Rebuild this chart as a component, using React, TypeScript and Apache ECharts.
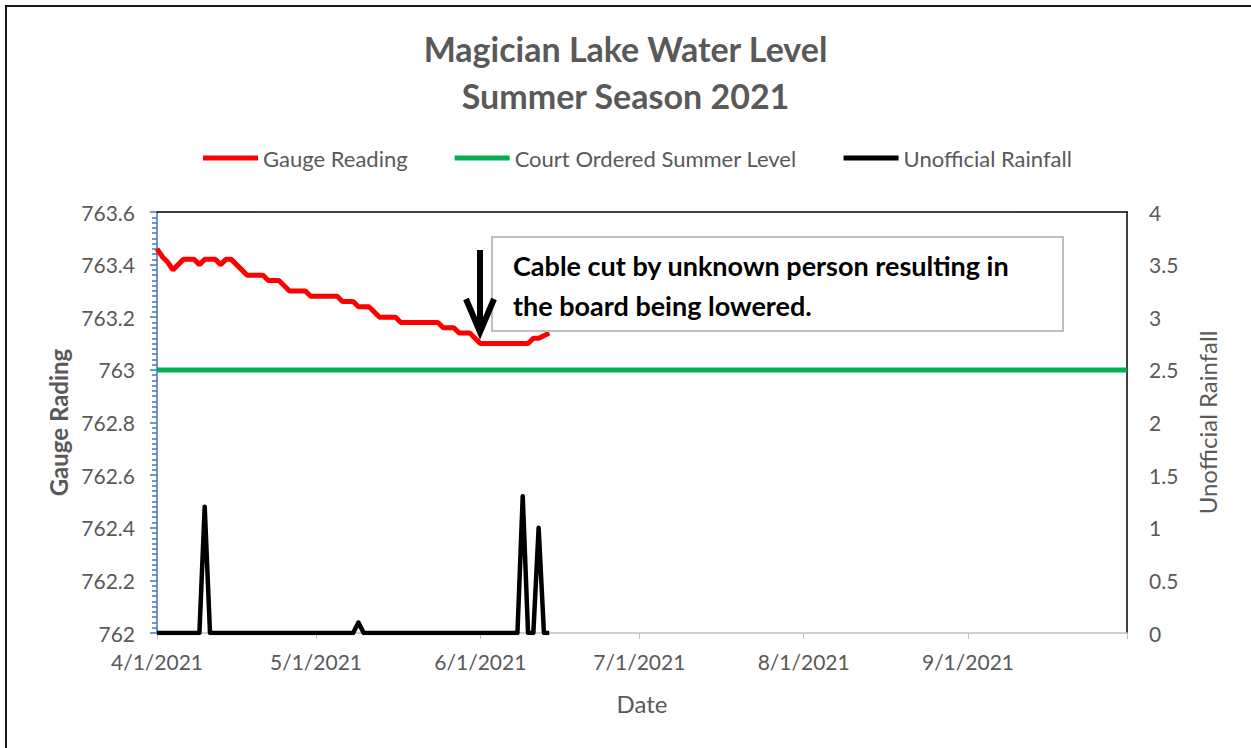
import React, { useEffect, useRef } from "react";
import * as echarts from "echarts";

// Date range of the horizontal axis (4/1/2021 .. 10/1/2021)
const startYear = 2021;
const startMonthIndex = 3; // April
const dayCount = 184;

// Gauge readings, one per day starting 4/1/2021
const gaugeReading = [
  763.46, 763.43, 763.41, 763.38, 763.40, 763.42, 763.42, 763.42, 763.40, 763.42,
  763.42, 763.42, 763.40, 763.42, 763.42, 763.40, 763.38, 763.36, 763.36, 763.36,
  763.36, 763.34, 763.34, 763.34, 763.32, 763.30, 763.30, 763.30, 763.30, 763.28,
  763.28, 763.28, 763.28, 763.28, 763.28, 763.26, 763.26, 763.26, 763.24, 763.24,
  763.24, 763.22, 763.20, 763.20, 763.20, 763.20, 763.18, 763.18, 763.18, 763.18,
  763.18, 763.18, 763.18, 763.18, 763.16, 763.16, 763.16, 763.14, 763.14, 763.14,
  763.12, 763.10, 763.10, 763.10, 763.10, 763.10, 763.10, 763.10, 763.10, 763.10,
  763.10, 763.12, 763.12, 763.13, 763.14,
];

// Unofficial rainfall, one per day starting 4/1/2021
const rainfall = [
  0, 0, 0, 0, 0, 0, 0, 0, 0, 1.2,
  0, 0, 0, 0, 0, 0, 0, 0, 0, 0,
  0, 0, 0, 0, 0, 0, 0, 0, 0, 0,
  0, 0, 0, 0, 0, 0, 0, 0, 0.1, 0,
  0, 0, 0, 0, 0, 0, 0, 0, 0, 0,
  0, 0, 0, 0, 0, 0, 0, 0, 0, 0,
  0, 0, 0, 0, 0, 0, 0, 0, 0, 1.3,
  0, 0, 1.0, 0, 0,
];

// Court ordered summer level (constant)
const courtOrderedLevel = 763;

const seriesNames = ["Gauge Reading", "Court Ordered Summer Level", "Unofficial Rainfall"];
const titleText = "Magician Lake Water Level\nSummer Season 2021";
const noteText = "Cable cut by unknown person resulting in\nthe board being lowered.";

const FONT = "Lato, 'Open Sans', sans-serif";
const GRAY = "#595959";

function buildDates(): string[] {
  const out: string[] = [];
  for (let i = 0; i < dayCount; i++) {
    const d = new Date(startYear, startMonthIndex, 1 + i);
    out.push(`${d.getMonth() + 1}/${d.getDate()}/${d.getFullYear()}`);
  }
  return out;
}

export default function App() {
  const ref = useRef<HTMLDivElement>(null);

  useEffect(() => {
    if (!ref.current) return;
    const chart = echarts.init(ref.current, null, { renderer: "svg" });
    const dates = buildDates();
    const courtLine = dates.map(() => courtOrderedLevel);
    const isMonthStart = (_i: number, v: string) => v.split("/")[1] === "1";

    chart.setOption({
      animation: false,
      textStyle: { fontFamily: FONT },
      title: {
        text: titleText,
        left: "center",
        top: 20,
        textStyle: {
          fontFamily: FONT,
          fontSize: 34,
          fontWeight: "bold",
          color: GRAY,
          lineHeight: 47,
        },
      },
      legend: {
        top: 142,
        left: 198,
        icon: "rect",
        itemWidth: 55,
        itemHeight: 5,
        itemGap: 47,
        textStyle: { fontFamily: FONT, fontSize: 22, color: GRAY },
        data: seriesNames,
      },
      grid: { left: 157, right: 124, top: 212, bottom: 115, containLabel: false },
      xAxis: [
        {
          type: "category",
          data: dates,
          boundaryGap: false,
          name: "Date",
          nameLocation: "middle",
          nameGap: 58,
          nameTextStyle: { fontFamily: FONT, fontSize: 24, color: GRAY },
          axisLine: { lineStyle: { color: "#BFBFBF", width: 1.5 } },
          axisTick: {
            show: true,
            interval: isMonthStart,
            length: 6,
            lineStyle: { color: "#BFBFBF" },
          },
          axisLabel: {
            interval: (i: number, v: string) => isMonthStart(i, v) && i < dayCount - 1,
            margin: 18,
            fontFamily: FONT,
            fontSize: 21,
            color: GRAY,
          },
          splitLine: { show: false },
        },
        {
          type: "category",
          data: dates,
          boundaryGap: false,
          position: "top",
          axisLine: { lineStyle: { color: "#000000", width: 1.5 } },
          axisTick: { show: false },
          axisLabel: { show: false },
          splitLine: { show: false },
        },
      ],
      yAxis: [
        {
          type: "value",
          min: 762,
          max: 763.6,
          interval: 0.2,
          name: "Gauge Rading",
          nameLocation: "middle",
          nameGap: 87,
          nameTextStyle: { fontFamily: FONT, fontSize: 24, fontWeight: "bold", color: GRAY },
          axisLine: { show: true, lineStyle: { color: "#4472C4", width: 1.5 } },
          axisTick: { show: true, length: 7, lineStyle: { color: "#4472C4", width: 1.5 } },
          minorTick: { show: true, splitNumber: 10, length: 5, lineStyle: { color: "#4472C4", width: 1.5 } },
          axisLabel: {
            margin: 22,
            fontFamily: FONT,
            fontSize: 21,
            color: GRAY,
            formatter: (v: number) => String(Math.round(v * 10) / 10),
          },
          splitLine: { show: false },
        },
        {
          type: "value",
          min: 0,
          max: 4,
          interval: 0.5,
          name: "Unofficial Rainfall",
          nameLocation: "middle",
          nameGap: 68,
          nameTextStyle: { fontFamily: FONT, fontSize: 24, color: GRAY },
          axisLine: { show: true, lineStyle: { color: "#000000", width: 1.5 } },
          axisTick: { show: false },
          axisLabel: { margin: 22, fontFamily: FONT, fontSize: 21, color: GRAY },
          splitLine: { show: false },
        },
      ],
      series: [
        {
          name: seriesNames[0],
          type: "line",
          data: gaugeReading,
          yAxisIndex: 0,
          showSymbol: false,
          itemStyle: { color: "#FF0000" },
          lineStyle: { color: "#FF0000", width: 5 },
          z: 3,
        },
        {
          name: seriesNames[1],
          type: "line",
          data: courtLine,
          yAxisIndex: 0,
          showSymbol: false,
          itemStyle: { color: "#00B050" },
          lineStyle: { color: "#00B050", width: 5 },
          z: 3,
        },
        {
          name: seriesNames[2],
          type: "line",
          data: rainfall,
          yAxisIndex: 1,
          showSymbol: false,
          itemStyle: { color: "#000000" },
          lineStyle: { color: "#000000", width: 4.5, join: "round" },
          z: 4,
        },
      ],
      graphic: [
        {
          type: "rect",
          shape: { x: 6, y: 6, width: 1400, height: 900 },
          style: { fill: "none", stroke: "#1a1a1a", lineWidth: 2 },
          silent: true,
          z: 0,
        },
        {
          type: "rect",
          shape: { x: 492, y: 237, width: 571, height: 94 },
          style: { fill: "#FFFFFF", stroke: "#BFBFBF", lineWidth: 2 },
          z: 100,
        },
        {
          type: "text",
          x: 513,
          y: 245,
          style: {
            text: noteText,
            fill: "#000000",
            font: `bold 27px ${FONT}`,
            lineHeight: 40,
            verticalAlign: "top",
          },
          z: 101,
        },
        {
          type: "polyline",
          shape: { points: [[480, 250], [480, 332]] },
          style: { stroke: "#000000", lineWidth: 6, fill: "none" },
          z: 101,
        },
        {
          type: "polyline",
          shape: { points: [[466, 299], [480, 332], [494, 299]] },
          style: { stroke: "#000000", lineWidth: 6, fill: "none", lineJoin: "miter" },
          z: 101,
        },
      ],
    });

    return () => chart.dispose();
  }, []);

  return (
    <div
      ref={ref}
      style={{ position: "absolute", left: 0, top: 0, width: 1251, height: 748, background: "#fff" }}
    />
  );
}
